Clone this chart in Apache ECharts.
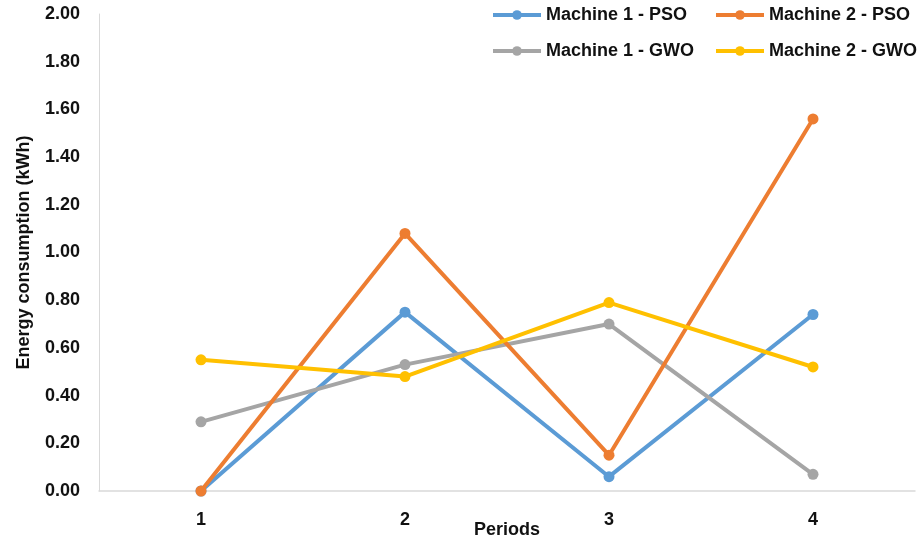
<!DOCTYPE html>
<html>
<head>
<meta charset="utf-8">
<script src="https://cdn.jsdelivr.net/npm/echarts@6/dist/echarts.min.js"></script>
<style>
html,body{margin:0;padding:0;background:#fff;}
#chart{width:923px;height:544px;}
</style>
</head>
<body>
<div id="chart"></div>
<script>
const periods = ['1', '2', '3', '4'];
const m1PSO = [0.00, 0.75, 0.06, 0.74];
const m2PSO = [0.00, 1.08, 0.15, 1.56];
const m1GWO = [0.29, 0.53, 0.70, 0.07];
const m2GWO = [0.55, 0.48, 0.79, 0.52];
const seriesNames = ['Machine 1 - PSO', 'Machine 2 - PSO', 'Machine 1 - GWO', 'Machine 2 - GWO'];
const seriesColors = ['#5B9BD5', '#ED7D31', '#A5A5A5', '#FFC000'];
const seriesData = [m1PSO, m2PSO, m1GWO, m2GWO];

const FONT = 'Liberation Sans';
const chart = echarts.init(document.getElementById('chart'), null, {renderer: 'canvas'});

const legendPos = [[486, 1], [709, 1], [486, 37], [709, 37]];
const legends = seriesNames.map((n, i) => ({
  left: legendPos[i][0],
  top: legendPos[i][1],
  data: [n],
  itemWidth: 48,
  itemHeight: 12,
  lineStyle: {width: 4},
  textStyle: {fontFamily: FONT, fontWeight: 'bold', fontSize: 18, color: '#111'}
}));

chart.setOption({
  animation: false,
  backgroundColor: '#fff',
  textStyle: {fontFamily: FONT},
  legend: legends,
  grid: {left: 99, right: 8, top: 14, bottom: 53, containLabel: false, outerBoundsMode: 'none'},
  xAxis: {
    type: 'category',
    data: periods,
    boundaryGap: true,
    name: 'Periods',
    nameLocation: 'middle',
    nameGap: 30,
    nameMoveOverlap: false,
    nameTextStyle: {fontFamily: FONT, fontWeight: 'bold', fontSize: 18, color: '#111'},
    axisLine: {lineStyle: {color: '#d9d9d9', width: 1.5}},
    axisTick: {show: false},
    axisLabel: {fontFamily: FONT, fontWeight: 'bold', fontSize: 18, color: '#111', margin: 20}
  },
  yAxis: {
    type: 'value',
    min: 0,
    max: 2,
    interval: 0.2,
    name: 'Energy consumption (kWh)',
    nameLocation: 'middle',
    nameGap: 66,
    nameMoveOverlap: false,
    nameRotate: 90,
    nameTextStyle: {fontFamily: FONT, fontWeight: 'bold', fontSize: 18, color: '#111'},
    axisLine: {show: true, lineStyle: {color: '#d9d9d9', width: 1}},
    axisTick: {show: false},
    splitLine: {show: false},
    axisLabel: {
      fontFamily: FONT, fontWeight: 'bold', fontSize: 18, color: '#111', margin: 19,
      formatter: v => v.toFixed(2)
    }
  },
  series: seriesNames.map((n, i) => ({
    name: n,
    type: 'line',
    data: seriesData[i],
    symbol: 'circle',
    symbolSize: 11,
    lineStyle: {width: 4, color: seriesColors[i]},
    itemStyle: {color: seriesColors[i]},
    z: i === 1 ? 5 : 2 + i
  }))
});
</script>
</body>
</html>
